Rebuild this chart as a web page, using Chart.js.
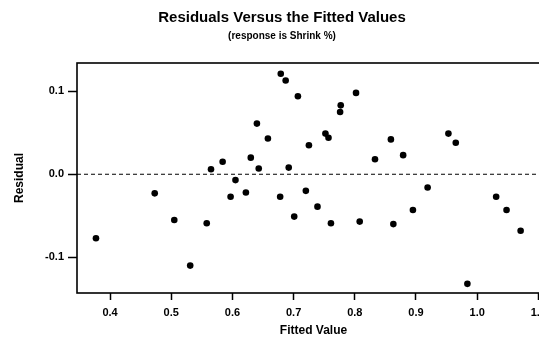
<!DOCTYPE html>
<html>
<head>
<meta charset="utf-8">
<script src="https://cdn.jsdelivr.net/npm/chart.js@4.4.1/dist/chart.umd.min.js"></script>
<style>
	html, body { margin: 0; padding: 0; background: #fff; overflow: hidden; }
	#wrap { width: 564px; height: 337px; }
</style>
</head>
<body>
<div id="wrap"><canvas id="myChart" width="564" height="337"></canvas></div>
<script>
// values
const fittedValues = [
	0.377, 0.473, 0.505, 0.531, 0.558, 0.565, 0.584, 0.597, 0.605, 0.622,
	0.630, 0.640, 0.643, 0.658, 0.679, 0.687, 0.678, 0.692, 0.701, 0.707,
	0.720, 0.725, 0.739, 0.752, 0.757, 0.761, 0.776, 0.777, 0.802, 0.808,
	0.833, 0.859, 0.863, 0.879, 0.895, 0.919, 0.953, 0.965, 0.984, 1.031,
	1.048, 1.071
];
const residuals = [
	-0.077, -0.023, -0.055, -0.110, -0.059, 0.006, 0.015, -0.027, -0.007, -0.022,
	0.020, 0.061, 0.007, 0.043, 0.121, 0.113, -0.027, 0.008, -0.051, 0.094,
	-0.020, 0.035, -0.039, 0.049, 0.044, -0.059, 0.075, 0.083, 0.098, -0.057,
	0.018, 0.042, -0.060, 0.023, -0.043, -0.016, 0.049, 0.038, -0.132, -0.027,
	-0.043, -0.068
];
const xTickValues = [0.4, 0.5, 0.6, 0.7, 0.8, 0.9, 1.0, 1.1];
const yTickValues = [-0.1, 0.0, 0.1];
const xRange = [0.346, 1.119];
const yRange = [-0.143, 0.134];
const referenceLevel = 0;

const FONT = "'Liberation Sans', Arial, sans-serif";

function setTicks(values){
	return function(scale){
		scale.ticks = values.map(v => ({ value: v }));
	};
}

// box round the plotting area
const frameBox = {
	id: 'frameBox',
	afterDatasetsDraw(chart){
		const a = chart.chartArea;
		const c = chart.ctx;
		c.save();
		c.strokeStyle = '#000';
		c.lineWidth = 1.6;
		c.strokeRect(a.left, a.top, a.right - a.left, a.bottom - a.top);
		c.restore();
	}
};

const ctx = document.getElementById('myChart').getContext('2d');
const myChart = new Chart(ctx, {
	type: 'scatter',
	data: {
		datasets: [
			{
				type: 'line',
				data: xRange.map(x => ({ x: x, y: referenceLevel })),
				borderColor: '#000',
				borderWidth: 1,
				borderDash: [4, 3],
				pointRadius: 0,
				fill: false
			},
			{
				data: fittedValues.map((x, i) => ({ x: x, y: residuals[i] })),
				backgroundColor: '#000',
				borderColor: '#000',
				borderWidth: 0,
				pointRadius: 3.3
			}
		]
	},
	options: {
		responsive: false,
		animation: false,
		layout: { padding: { left: 0, right: 0, top: 0, bottom: 0 } },
		scales: {
			x: {
				type: 'linear',
				min: xRange[0],
				max: xRange[1],
				afterBuildTicks: setTicks(xTickValues),
				afterFit: function(scale){ scale.height = 44; },
				border: { display: false },
				grid: {
					display: true,
					drawOnChartArea: false,
					drawTicks: true,
					tickLength: 7,
					tickColor: '#000',
					tickWidth: 1.5
				},
				ticks: {
					color: '#000',
					padding: 6,
					maxRotation: 0,
					font: { family: FONT, size: 11, weight: 'bold' },
					callback: v => v.toFixed(1)
				},
				title: {
					display: true,
					text: 'Fitted Value',
					color: '#000',
					padding: { top: 7, bottom: 0 },
					font: { family: FONT, size: 12, weight: 'bold', lineHeight: 1 }
				}
			},
			y: {
				type: 'linear',
				min: yRange[0],
				max: yRange[1],
				afterBuildTicks: setTicks(yTickValues),
				afterFit: function(scale){ scale.width = 77; },
				border: { display: false },
				grid: {
					display: true,
					drawOnChartArea: false,
					drawTicks: true,
					tickLength: 9,
					tickColor: '#000',
					tickWidth: 1.5
				},
				ticks: {
					color: '#000',
					padding: 4,
					font: { family: FONT, size: 11, weight: 'bold' },
					callback: v => v.toFixed(1)
				},
				title: {
					display: true,
					text: 'Residual',
					color: '#000',
					padding: { top: 12, bottom: 0 },
					font: { family: FONT, size: 12, weight: 'bold' }
				}
			},
			// empty axis on the right, only keeps room so the titles stay centred
			y2: {
				type: 'linear',
				position: 'right',
				display: true,
				afterFit: function(scale){ scale.width = 14; },
				border: { display: false },
				grid: { display: false },
				ticks: { display: false }
			}
		},
		plugins: {
			legend: { display: false },
			tooltip: { enabled: false },
			title: {
				display: true,
				text: 'Residuals Versus the Fitted Values',
				color: '#000',
				padding: { top: 9, bottom: 2 },
				font: { family: FONT, size: 15, weight: 'bold', lineHeight: 1.2 }
			},
			subtitle: {
				display: true,
				text: '(response is Shrink %)',
				color: '#000',
				padding: { top: 1, bottom: 21 },
				font: { family: FONT, size: 10, weight: 'bold', lineHeight: 1.2 }
			}
		}
	},
	plugins: [frameBox]
});
</script>
</body>
</html>
